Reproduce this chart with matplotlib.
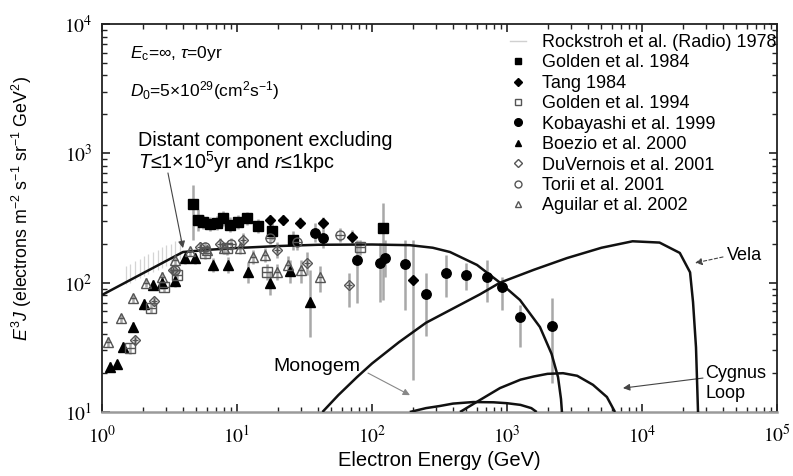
import numpy as np
import matplotlib
matplotlib.use("Agg")
import matplotlib.pyplot as plt
from matplotlib.lines import Line2D
from matplotlib.ticker import LogLocator, NullFormatter, FixedLocator, FixedFormatter

plt.rcParams['font.family'] = ['Liberation Sans', 'DejaVu Sans']
plt.rcParams['mathtext.fontset'] = 'stix'
plt.rcParams['mathtext.rm'] = 'Liberation Sans'
plt.rcParams['mathtext.it'] = 'Liberation Sans:italic'
plt.rcParams['mathtext.bf'] = 'Liberation Sans:bold'

# ---------------- model curves (log10 E [GeV], log10 E^3 J) ----------------
distant_logE = [0.0, 0.6, 0.8, 1.0, 1.3, 1.6, 2.0, 2.28, 2.45, 2.578, 2.778,
                2.948, 3.096, 3.244, 3.33, 3.378, 3.40, 3.407]
distant_logJ = [1.905, 2.237, 2.255, 2.268, 2.283, 2.293, 2.295, 2.29, 2.27,
                2.237, 2.137, 2.0, 1.866, 1.657, 1.45, 1.27, 1.1, 1.0]

vela_logE = [1.633, 1.75, 1.889, 2.0, 2.2, 2.4, 2.6, 2.8, 2.948, 3.2, 3.444,
             3.7, 3.93, 4.13, 4.28, 4.356, 4.378, 4.40, 4.415]
vela_logJ = [1.0, 1.13, 1.27, 1.375, 1.54, 1.69, 1.80, 1.91, 2.0, 2.10, 2.19,
             2.27, 2.32, 2.31, 2.23, 2.08, 1.85, 1.5, 1.0]

cygnus_logE = [2.652, 2.8, 2.948, 3.1, 3.2, 3.3, 3.415, 3.52, 3.637, 3.74, 3.8]
cygnus_logJ = [1.0, 1.093, 1.185, 1.25, 1.275, 1.295, 1.30, 1.28, 1.21, 1.116, 1.0]

monogem_logE = [2.28, 2.4, 2.5, 2.6, 2.75, 2.9, 3.0, 3.1, 3.18, 3.22]
monogem_logJ = [1.0, 1.03, 1.046, 1.065, 1.077, 1.075, 1.068, 1.055, 1.03, 1.0]

# ---------------- measurements (E [GeV], E^3 J, error range) ----------------
radio_E = [1.5, 1.6, 1.75, 1.9, 2.05, 2.2, 2.4, 2.6, 2.8, 3.0, 3.25, 3.5, 3.8]
radio_lo = [97, 100, 104, 108, 112, 116, 120, 125, 130, 135, 140, 146, 152]
radio_hi = [135, 140, 146, 152, 160, 166, 172, 180, 188, 195, 200, 210, 220]

golden84_E = [4.7, 5.1, 5.6, 6.3, 7.1, 7.9, 8.9, 10.2, 11.8, 14.3, 18.2, 26, 120]
golden84_J = [406, 305, 296, 284, 290, 316, 279, 296, 316, 274, 252, 214, 265]
golden84_lo = [214, 250, 260, 250, 255, 275, 245, 260, 280, 240, 215, 180, 74]
golden84_hi = [570, 370, 335, 320, 330, 360, 320, 335, 355, 310, 290, 250, 410]

tang_E = [17.6, 21.9, 29.3, 43.4, 71, 201]
tang_J = [305, 305, 290, 290, 225, 105]
tang_lo = [280, 280, 265, 265, 200, 17.6]
tang_hi = [335, 335, 320, 320, 255, 214]

golden94_E = [1.6, 2.3, 2.9, 3.6, 5.8, 8.5, 16.7, 81.5]
golden94_J = [31, 64, 93, 115, 170, 185, 121, 189]
golden94_lo = [28, 58, 84, 104, 152, 165, 105, 165]
golden94_hi = [34, 70, 102, 126, 190, 205, 140, 215]

kob_E = [38, 43, 77, 115, 124, 176, 251, 353, 497, 711, 918, 1248, 2154]
kob_J = [243, 222, 150, 142, 155, 140, 82, 119, 115, 111, 93, 54, 46]
kob_lo = [205, 185, 70, 71, 110, 61, 39, 77, 88, 71, 61, 32, 16.7]
kob_hi = [290, 265, 214, 203, 215, 214, 119, 164, 142, 150, 110, 67, 76]

boezio_E = [1.15, 1.29, 1.43, 1.7, 2.05, 2.39, 2.78, 3.47, 4.12, 4.88, 6.64,
            8.6, 12.1, 17.5, 24.5, 34.6]
boezio_J = [22.3, 23.3, 31.8, 45.4, 68.4, 96, 99.6, 103, 155, 155, 137, 137,
            121, 99.6, 124, 71]
boezio_lo = [20.5, 21.5, 29, 41.5, 62, 88, 90, 93, 140, 140, 120, 118, 100,
             80, 100, 38]
boezio_hi = [24.3, 25.3, 34.6, 49.5, 75, 105, 110, 114, 170, 170, 155, 157,
             145, 122, 150, 125]

duv_E = [1.76, 2.43, 3.36, 5.3, 7.5, 11.1, 19.8, 33, 67]
duv_J = [36, 72, 125, 189, 200, 214, 179, 142, 96]
duv_lo = [33, 66, 114, 172, 180, 190, 155, 115, 65]
duv_hi = [39, 78, 137, 206, 222, 240, 205, 172, 119]

torii_E = [3.5, 5.8, 9.0, 17.6, 28, 58]
torii_J = [125, 190, 200, 222, 205, 234]
torii_lo = [112, 172, 180, 198, 180, 205]
torii_hi = [138, 208, 222, 248, 232, 266]

aguilar_E = [1.11, 1.38, 1.7, 2.12, 2.78, 3.5, 4.5, 6.0, 8.0, 10.5, 13.1,
             16.1, 19.8, 23.8, 30, 41]
aguilar_J = [35, 53, 76, 100, 111, 150, 175, 180, 185, 185, 158, 164, 121,
             137, 125, 110]
aguilar_lo = [32, 49, 70, 92, 102, 138, 160, 164, 168, 166, 140, 145, 104,
              115, 100, 85]
aguilar_hi = [38, 57, 82, 108, 120, 162, 190, 196, 202, 205, 178, 185, 140,
              160, 150, 135]

legend_labels = ["Rockstroh et al. (Radio) 1978", "Golden et al. 1984",
                 "Tang 1984", "Golden et al. 1994", "Kobayashi et al. 1999",
                 "Boezio et al. 2000", "DuVernois et al. 2001",
                 "Torii et al. 2001", "Aguilar et al. 2002"]

xtick_exps = [0, 1, 2, 3, 4, 5]
ytick_exps = [1, 2, 3, 4]

# ---------------- figure ----------------
fig = plt.figure(figsize=(7.93, 4.76), dpi=100)
ax = fig.add_axes([102 / 793, 64 / 476, 675 / 793, 388 / 476])
ax.set_xscale('log')
ax.set_yscale('log')
ax.set_xlim(1, 1e5)
ax.set_ylim(10, 1e4)

ERR = '#a8a8a8'

# radio band
ax.vlines(radio_E, radio_lo, radio_hi, color='#d4d4d4', lw=0.9, zorder=1)


def errs(E, lo, hi):
    ax.vlines(E, lo, hi, color=ERR, lw=1.8, zorder=2)


for E, lo, hi in [(golden84_E, golden84_lo, golden84_hi),
                  (tang_E, tang_lo, tang_hi),
                  (golden94_E, golden94_lo, golden94_hi),
                  (kob_E, kob_lo, kob_hi),
                  (boezio_E, boezio_lo, boezio_hi),
                  (duv_E, duv_lo, duv_hi),
                  (torii_E, torii_lo, torii_hi),
                  (aguilar_E, aguilar_lo, aguilar_hi)]:
    errs(E, lo, hi)

# model curves
for le, lj in [(distant_logE, distant_logJ), (vela_logE, vela_logJ),
               (cygnus_logE, cygnus_logJ), (monogem_logE, monogem_logJ)]:
    ax.plot(10 ** np.array(le), 10 ** np.array(lj), color='#111111', lw=1.8,
            zorder=4, solid_capstyle='butt')

# markers
ms = 6.5
ax.plot(golden84_E, golden84_J, 's', ms=ms, color='k', zorder=5)
ax.plot(tang_E, tang_J, 'D', ms=5.5, color='k', zorder=5)
ax.plot(kob_E, kob_J, 'o', ms=ms + 0.3, color='k', zorder=5)
ax.plot(boezio_E, boezio_J, '^', ms=ms, color='k', zorder=5)
open_kw = dict(mfc='none', mec='#555555', mew=1.0, zorder=5, ls='none')
ax.plot(golden94_E, golden94_J, 's', ms=ms, **open_kw)
ax.plot(golden94_E, golden94_J, '_', ms=ms, **open_kw)
ax.plot(duv_E, duv_J, 'D', ms=5.5, **open_kw)
ax.plot(duv_E, duv_J, '+', ms=4, **open_kw)
ax.plot(torii_E, torii_J, 'o', ms=ms, **open_kw)
ax.plot(torii_E, torii_J, '_', ms=ms, **open_kw)
ax.plot(aguilar_E, aguilar_J, '^', ms=ms, **open_kw)
ax.plot(aguilar_E, aguilar_J, '_', ms=4, **open_kw)

# axes styling
for s in ['left', 'top', 'right']:
    ax.spines[s].set_color('#222222')
    ax.spines[s].set_linewidth(1.3)
ax.spines['bottom'].set_color('#9a9a9a')
ax.spines['bottom'].set_linewidth(1.8)

ax.xaxis.set_major_locator(FixedLocator([10.0 ** k for k in xtick_exps]))
ax.xaxis.set_major_formatter(FixedFormatter([r'$10^{%d}$' % k for k in xtick_exps]))
ax.yaxis.set_major_locator(FixedLocator([10.0 ** k for k in ytick_exps]))
ax.yaxis.set_major_formatter(FixedFormatter([r'$10^{%d}$' % k for k in ytick_exps]))
ax.xaxis.set_minor_locator(LogLocator(base=10, subs=np.arange(2, 10)))
ax.yaxis.set_minor_locator(LogLocator(base=10, subs=np.arange(2, 10)))
ax.xaxis.set_minor_formatter(NullFormatter())
ax.yaxis.set_minor_formatter(NullFormatter())
ax.tick_params(which='both', direction='in', top=True, right=True,
               color='#222222')
ax.tick_params(which='major', length=6, width=1.2, labelsize=14)
ax.tick_params(axis='x', which='major', pad=9)
ax.tick_params(axis='y', which='major', pad=7)
ax.tick_params(which='minor', length=3.5, width=1.0)

sans = dict(math_fontfamily='custom')
ax.set_xlabel('Electron Energy (GeV)', fontsize=14.5, labelpad=3)
ax.set_ylabel(r'$E^3J$ (electrons m$^{-2}$ s$^{-1}$ sr$^{-1}$ GeV$^2$)',
              fontsize=12.8, **sans)
ax.yaxis.set_label_coords(-0.1, 0.525)

# text and annotations
ax.text(0.041, 0.925, r'$E_{\rm c}$=∞, $\tau$=0yr', transform=ax.transAxes,
        fontsize=12.5, va='center', ha='left', **sans)
ax.text(0.041, 0.829, r'$D_0$=5×10$^{29}$(cm$^2$s$^{-1}$)',
        transform=ax.transAxes, fontsize=12.5, va='center', ha='left', **sans)
ax.text(0.053, 0.701, 'Distant component excluding', transform=ax.transAxes,
        fontsize=14.2, va='center', ha='left')
ax.text(0.053, 0.644, r'$T$≤1×10$^5$yr and $r$≤1kpc', transform=ax.transAxes,
        fontsize=14.2, va='center', ha='left', **sans)

arrow = dict(arrowstyle='-|>', color='#444444', lw=0.8, mutation_scale=10,
             shrinkA=0, shrinkB=0)
ax.annotate('', xy=(3.98, 185), xytext=(3.08, 705), arrowprops=arrow)
ax.annotate('', xy=(24700, 142), xytext=(39800, 158),
            arrowprops=dict(arrow, linestyle=(0, (3, 2))))
ax.text(42600, 161, 'Vela', fontsize=13, va='center', ha='left')
ax.annotate('', xy=(7230, 15.3), xytext=(28300, 18.3), arrowprops=arrow)
ax.text(29300, 20, 'Cygnus', fontsize=13, va='center', ha='left')
ax.text(29300, 14, 'Loop', fontsize=13, va='center', ha='left')
ax.annotate('', xy=(191, 13.5), xytext=(93.4, 20),
            arrowprops=dict(arrow, color='#888888'))
ax.text(18.5, 22.3, 'Monogem', fontsize=14, va='center', ha='left')

# legend
handles = [Line2D([], [], color='#d0d0d0', lw=1.0),
           Line2D([], [], marker='s', ms=5, color='k', ls='none'),
           Line2D([], [], marker='D', ms=4.5, color='k', ls='none'),
           Line2D([], [], marker='s', ms=5, mfc='none', mec='#555555', ls='none'),
           Line2D([], [], marker='o', ms=5.5, color='k', ls='none'),
           Line2D([], [], marker='^', ms=5, color='k', ls='none'),
           Line2D([], [], marker='D', ms=4.5, mfc='none', mec='#555555', ls='none'),
           Line2D([], [], marker='o', ms=5, mfc='none', mec='#555555', ls='none'),
           Line2D([], [], marker='^', ms=5, mfc='none', mec='#555555', ls='none')]
leg = ax.legend(handles, legend_labels, loc='upper right',
                bbox_to_anchor=(777 / 793, 442 / 476),
                bbox_transform=fig.transFigure, frameon=False, fontsize=13,
                handlelength=0.9, handletextpad=0.9, labelspacing=0.19,
                borderpad=0, borderaxespad=0)

fig.savefig('out.png', dpi=100)
